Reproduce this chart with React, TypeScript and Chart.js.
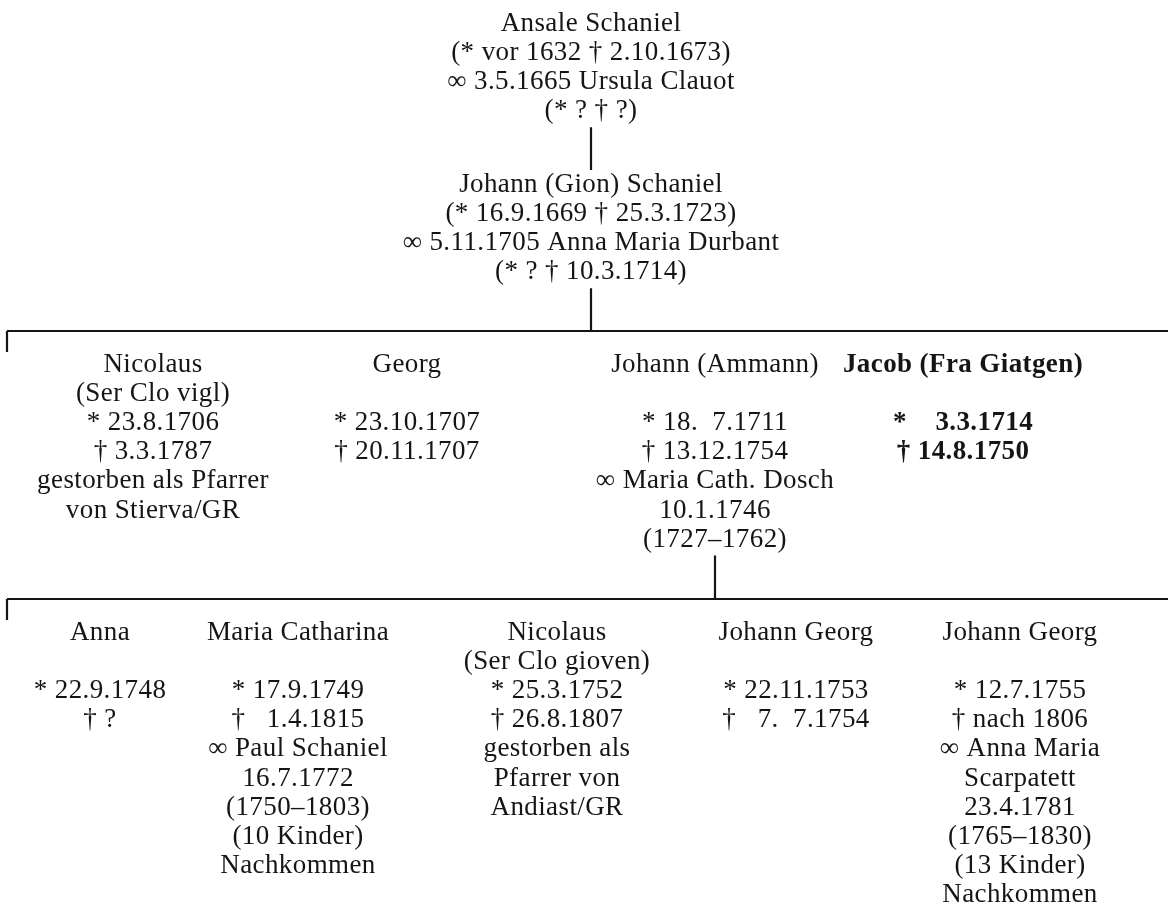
import React, { useEffect, useRef } from "react";
import { Chart, registerables } from "chart.js";

Chart.register(...registerables);

// ---------- DATA (text of each person, by generation) ----------
const gen1Ansale = ["Ansale Schaniel", "(* vor 1632 † 2.10.1673)", "∞ 3.5.1665 Ursula Clauot", "(* ? † ?)"];

const gen2Johann = ["Johann (Gion) Schaniel", "(* 16.9.1669 † 25.3.1723)", "∞ 5.11.1705 Anna Maria Durbant", "(* ? † 10.3.1714)"];

const gen3Nicolaus = ["Nicolaus", "(Ser Clo vigl)", "* 23.8.1706", "† 3.3.1787", "gestorben als Pfarrer", "von Stierva/GR"];
const gen3Georg = ["Georg", "", "* 23.10.1707", "† 20.11.1707"];
const gen3JohannAmmann = ["Johann (Ammann)", "", "* 18.  7.1711", "† 13.12.1754", "∞ Maria Cath. Dosch", "10.1.1746", "(1727–1762)"];
const gen3Jacob = ["Jacob (Fra Giatgen)", "", "*    3.3.1714", "† 14.8.1750"];

const gen4Anna = ["Anna", "", "* 22.9.1748", "† ?"];
const gen4MariaCatharina = ["Maria Catharina", "", "* 17.9.1749", "†   1.4.1815", "∞ Paul Schaniel", "16.7.1772", "(1750–1803)", "(10 Kinder)", "Nachkommen"];
const gen4Nicolaus = ["Nicolaus", "(Ser Clo gioven)", "* 25.3.1752", "† 26.8.1807", "gestorben als", "Pfarrer von", "Andiast/GR"];
const gen4JohannGeorg1 = ["Johann Georg", "", "* 22.11.1753", "†   7.  7.1754"];
const gen4JohannGeorg2 = ["Johann Georg", "", "* 12.7.1755", "† nach 1806", "∞ Anna Maria", "Scarpatett", "23.4.1781", "(1765–1830)", "(13 Kinder)", "Nachkommen"];

const boldPersons = ["Jacob (Fra Giatgen)"];

// tree: generations of persons; parentIndex = index of parent in previous generation
const generations = [
  { persons: [gen1Ansale], parentIndex: -1 },
  { persons: [gen2Johann], parentIndex: 0 },
  { persons: [gen3Nicolaus, gen3Georg, gen3JohannAmmann, gen3Jacob], parentIndex: 0 },
  { persons: [gen4Anna, gen4MariaCatharina, gen4Nicolaus, gen4JohannGeorg1, gen4JohannGeorg2], parentIndex: 2 },
];

// ---------- LAYOUT (axis units) ----------
const AXIS_W = 1168;
const AXIS_H = 904;
const columnCenters = [[591], [591], [153, 407, 715, 963], [100, 298, 557, 796, 1020]];
const firstRow = [24, 185, 365, 633];
const ROW_H = 29.1;
const BAR_LEFT = 7;
const BAR_RIGHT = 1175;
const TICK_LEN = 21;
const FONT_SIZE = 27;
const INK = "#151515";

function rowY(gen: number, i: number) {
  return firstRow[gen] + i * ROW_H;
}

function buildConnectors() {
  const segs: { x: number; y: number }[][] = [];
  for (let g = 1; g < generations.length; g++) {
    const gen = generations[g];
    const pIdx = gen.parentIndex;
    const parentLines = generations[g - 1].persons[pIdx];
    const px = columnCenters[g - 1][pIdx];
    const top = rowY(g - 1, parentLines.length - 1) + 16;
    if (gen.persons.length === 1) {
      const bottom = firstRow[g] - 15;
      segs.push([{ x: px, y: top }, { x: columnCenters[g][0], y: bottom }]);
    } else {
      const barY = firstRow[g] - 34;
      segs.push([{ x: px, y: top }, { x: px, y: barY }]);
      segs.push([{ x: BAR_LEFT, y: barY }, { x: BAR_RIGHT, y: barY }]);
      segs.push([{ x: BAR_LEFT, y: barY }, { x: BAR_LEFT, y: barY + TICK_LEN }]);
    }
  }
  return segs;
}

const textPlugin = {
  id: "familyText",
  afterDatasetsDraw(chart: any) {
    const ctx = chart.ctx as CanvasRenderingContext2D;
    const xs = chart.scales.x;
    const ys = chart.scales.y;
    ctx.save();
    ctx.fillStyle = INK;
    ctx.textAlign = "center";
    ctx.textBaseline = "middle";
    try {
      (ctx as any).letterSpacing = "0.4px";
    } catch (e) {}
    generations.forEach((gen, g) => {
      gen.persons.forEach((lines, p) => {
        const bold = boldPersons.includes(lines[0]);
        ctx.font = `${bold ? "bold " : ""}${FONT_SIZE}px "Liberation Serif", "Times New Roman", serif`;
        const cx = xs.getPixelForValue(columnCenters[g][p]);
        lines.forEach((t, i) => {
          if (!t) return;
          ctx.fillText(t, cx, ys.getPixelForValue(rowY(g, i)));
        });
      });
    });
    ctx.restore();
  },
};

export default function App() {
  const ref = useRef<HTMLCanvasElement | null>(null);
  useEffect(() => {
    document.body.style.margin = "0";
    document.body.style.background = "#ffffff";
    if (!ref.current) return;
    const segs = buildConnectors();
    const chart = new Chart(ref.current, {
      type: "scatter",
      data: {
        datasets: segs.map((s) => ({
          data: s,
          showLine: true,
          borderColor: INK,
          borderWidth: 2.2,
          pointRadius: 0,
          pointHoverRadius: 0,
          fill: false,
        })),
      },
      options: {
        animation: false,
        responsive: true,
        maintainAspectRatio: false,
        layout: { padding: 0 },
        events: [],
        plugins: { legend: { display: false }, tooltip: { enabled: false } },
        scales: {
          x: { type: "linear", min: 0, max: AXIS_W, display: false },
          y: { type: "linear", min: 0, max: AXIS_H, reverse: true, display: false },
        },
      },
      plugins: [textPlugin],
    });
    return () => chart.destroy();
  }, []);
  return (
    <div style={{ width: AXIS_W, height: AXIS_H, position: "relative", background: "#fff" }}>
      <canvas ref={ref} />
    </div>
  );
}
